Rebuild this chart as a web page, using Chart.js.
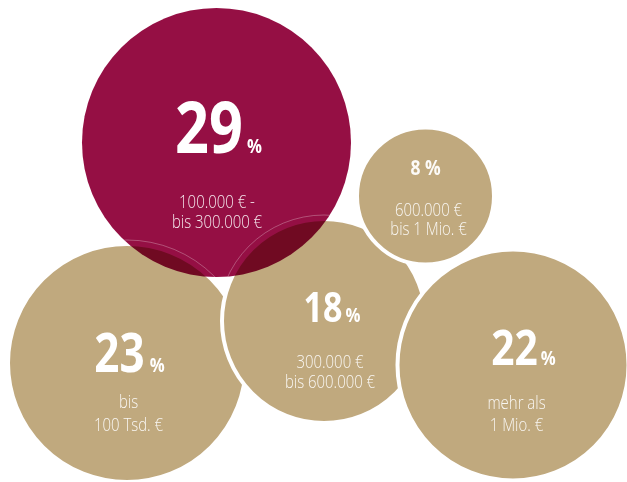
<!DOCTYPE html>
<html><head><meta charset="utf-8">
<script src="https://cdn.jsdelivr.net/npm/chart.js@4"></script>
<style>html,body{margin:0;padding:0;background:#fff;overflow:hidden}canvas{display:block}</style>
</head><body>
<canvas id="c" width="627" height="482"></canvas>
<script>
// ---- data ----
const categories = ['bis 100 Tsd. €', '100.000 € - bis 300.000 €', '300.000 € bis 600.000 €', '600.000 € bis 1 Mio. €', 'mehr als 1 Mio. €'];
const percentValues = [23, 29, 18, 8, 22];
const subLabelLines = [['bis', '100 Tsd. €'], ['100.000 € -', 'bis 300.000 €'], ['300.000 €', 'bis 600.000 €'], ['600.000 €', 'bis 1 Mio. €'], ['mehr als', '1 Mio. €']];
const bubbleX = [127, 216.5, 324, 425.5, 513];
const bubbleY = [363, 142.5, 321, 196, 365];
const bubbleR = [119, 134.5, 102, 68.5, 115.5];
const highlightIndex = 1;

// ---- styles ----
const RED = 'rgb(149,15,68)';
const BEIGE = 'rgb(192,169,126)';
const FONT = '"Open Sans", "Noto Sans", "DejaVu Sans", sans-serif';
const SX = 0.83; // horizontal condensing of the lettering
const labelStyle = [
  {big: 53, pct: 20, gap: 5, bigDy: 9, dx: 2.5, subDx: 1.5, subDy: [45, 68]},
  {big: 71.5, pct: 20, gap: 4, bigDy: 10.5, dx: 2, subDx: 0.5, subDy: [65.5, 85.5]},
  {big: 41, pct: 20, gap: 3, bigDy: 1, dx: 8, subDx: 6, subDy: [47, 67]},
  {big: 21, pct: 21, gap: 0, bigDy: -21, dx: 0, subDx: 3, subDy: [20, 39], inline: true},
  {big: 49, pct: 20, gap: 3, bigDy: 0, dx: 10.5, subDx: 3.5, subDy: [44, 66]}
];

const redData = [], beigeData = [], lookup = [];
categories.forEach((c, i) => {
  const pt = {x: bubbleX[i], y: bubbleY[i], r: bubbleR[i]};
  if (i === highlightIndex) { lookup[i] = [0, redData.length]; redData.push(pt); }
  else { lookup[i] = [1, beigeData.length]; beigeData.push(pt); }
});

const blendPlugin = {
  id: 'blend',
  beforeDatasetDraw(chart, args) {
    if (chart.data.datasets[args.index].blend) { chart.ctx.save(); chart.ctx.globalCompositeOperation = 'multiply'; }
  },
  afterDatasetDraw(chart, args) {
    if (!chart.data.datasets[args.index].blend) return;
    const ctx = chart.ctx;
    ctx.restore();
    const red = chart.getDatasetMeta(0).data[0];
    ctx.save();
    ctx.beginPath();
    ctx.arc(red.x, red.y, red.options.radius, 0, Math.PI * 2);
    ctx.clip();
    ctx.strokeStyle = 'rgba(255,255,255,0.35)';
    ctx.lineWidth = 0.8;
    chart.getDatasetMeta(1).data.forEach(el => {
      ctx.beginPath();
      ctx.arc(el.x, el.y, el.options.radius + 4, 0, Math.PI * 2);
      ctx.stroke();
    });
    ctx.restore();
  }
};

function txt(ctx, s, x, y, font, align, color) {
  ctx.save();
  ctx.font = font;
  ctx.fillStyle = color;
  ctx.textAlign = align;
  ctx.textBaseline = 'alphabetic';
  ctx.translate(x, y);
  ctx.scale(SX, 1);
  ctx.fillText(s, 0, 0);
  ctx.restore();
}
function width(ctx, s, font) {
  ctx.save(); ctx.font = font; const w = ctx.measureText(s).width * SX; ctx.restore(); return w;
}

const labelPlugin = {
  id: 'labels',
  afterDatasetsDraw(chart) {
    const ctx = chart.ctx;
    categories.forEach((c, i) => {
      const [d, j] = lookup[i];
      const el = chart.getDatasetMeta(d).data[j];
      const s = labelStyle[i];
      const cx = el.x, cy = el.y;
      if (s.inline) {
        txt(ctx, percentValues[i] + ' %', cx + s.dx, cy + s.bigDy, 'bold ' + s.big + 'px ' + FONT, 'center', 'rgba(255,255,255,0.95)');
      } else {
        const fb = 'bold ' + s.big + 'px ' + FONT, fp = 'bold ' + s.pct + 'px ' + FONT;
        const numTxt = String(percentValues[i]);
        const wn = width(ctx, numTxt, fb), wp = width(ctx, '%', fp);
        const x0 = cx + s.dx - (wn + s.gap + wp) / 2;
        txt(ctx, numTxt, x0, cy + s.bigDy, fb, 'left', '#fff');
        txt(ctx, '%', x0 + wn + s.gap, cy + s.bigDy, fp, 'left', '#fff');
      }
      subLabelLines[i].forEach((line, k) =>
        txt(ctx, line, cx + s.subDx, cy + s.subDy[k], '300 18px ' + FONT, 'center', 'rgba(255,255,255,0.9)'));
    });
  }
};

new Chart(document.getElementById('c'), {
  type: 'bubble',
  data: {
    datasets: [
      {label: categories[highlightIndex], data: redData, backgroundColor: RED, borderWidth: 0, borderColor: RED, order: 0, blend: true, clip: false},
      {label: 'Andere', data: beigeData, backgroundColor: BEIGE, borderColor: '#fff', borderWidth: 4, order: 1, clip: false}
    ]
  },
  options: {
    responsive: false,
    animation: false,
    events: [],
    layout: {padding: 0, autoPadding: false},
    plugins: {legend: {display: false}, tooltip: {enabled: false}},
    scales: {
      x: {type: 'linear', min: 0, max: 627, display: false},
      y: {type: 'linear', min: 0, max: 482, reverse: true, display: false}
    }
  },
  plugins: [blendPlugin, labelPlugin]
});
</script>
</body></html>
